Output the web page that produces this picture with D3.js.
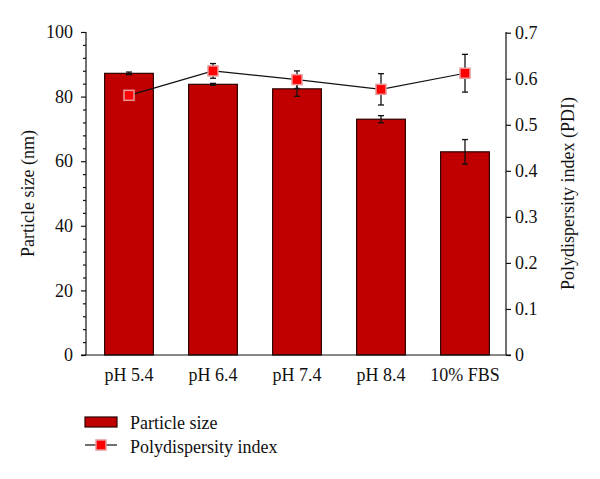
<!DOCTYPE html>
<html><head><meta charset="utf-8">
<script src="https://cdn.jsdelivr.net/npm/d3@7"></script>
<style>body{margin:0;background:#fff}svg{display:block}svg text{font-family:"Liberation Serif","DejaVu Serif",serif !important;fill:#111}</style>
</head><body>
<svg id="c" width="600" height="479"></svg>
<script>
const categories = ["pH 5.4","pH 6.4","pH 7.4","pH 8.4","10% FBS"];
const sizeValues = [87.2, 83.8, 82.4, 73.0, 62.9];
const sizeErrors = [0.4, 0.3, 2.3, 1.1, 3.8];
const pdiValues = [0.564, 0.617, 0.598, 0.577, 0.612];
const pdiErrors = [0.0, 0.016, 0.019, 0.034, 0.041];
const leftTicks = [0,20,40,60,80,100];
const rightTicks = [0,0.1,0.2,0.3,0.4,0.5,0.6,0.7];

const svg = d3.select("#c");
const x0 = 86, x1 = 506, yTop = 32, yBot = 355;
const x = d3.scaleBand().domain(categories).range([x0+1, x1+1]).paddingInner(0.42).paddingOuter(0.21);
const yL = d3.scaleLinear().domain([0,100]).range([yBot, yTop]);
const yR = d3.scaleLinear().domain([0,0.7]).range([yBot, yTop+0.7]);
const fs = 18;
const FF = '"Liberation Serif","DejaVu Serif",serif';

// bars
svg.append("g").selectAll("rect").data(categories).join("rect")
  .attr("x", d => x(d)).attr("width", x.bandwidth())
  .attr("y", (d,i) => yL(sizeValues[i])).attr("height", (d,i) => yBot - yL(sizeValues[i]))
  .attr("fill", "#c00000").attr("stroke", "#2a0000").attr("stroke-width", 1.2);

// bar error bars
const eb = svg.append("g").attr("stroke", "#111").attr("stroke-width", 1.3);
categories.forEach((c,i) => {
  const cx = x(c) + x.bandwidth()/2;
  const hi = yL(sizeValues[i]+sizeErrors[i]), lo = yL(sizeValues[i]-sizeErrors[i]);
  eb.append("line").attr("x1",cx).attr("x2",cx).attr("y1",hi).attr("y2",lo);
  eb.append("line").attr("x1",cx-3).attr("x2",cx+3).attr("y1",hi).attr("y2",hi);
  eb.append("line").attr("x1",cx-3).attr("x2",cx+3).attr("y1",lo).attr("y2",lo);
});

// left axis
const axL = svg.append("g").attr("transform", `translate(${x0},0)`);
axL.call(d3.axisLeft(yL).tickValues(d3.range(0,101,4)).tickSize(3).tickFormat(""));
axL.call(g => g.selectAll(".tick").filter(d => d % 20 === 0).select("line").attr("x2", -5));
axL.selectAll("path").attr("d", `M0,${yTop}V${yBot}`);
axL.selectAll("line,path").attr("stroke","#111").attr("stroke-width",1.2);
axL.selectAll(".tick text").remove();
const axL2 = svg.append("g").attr("transform", `translate(${x0},0)`);
axL2.call(d3.axisLeft(yL).tickValues(leftTicks).tickSize(0).tickPadding(13));
axL2.select(".domain").remove();
axL2.attr("font-family", FF).attr("font-size", fs);
axL2.selectAll("text").attr("font-size", fs).attr("font-family", FF);

// right axis
const axR = svg.append("g").attr("transform", `translate(${x1},0)`);
axR.call(d3.axisRight(yR).tickValues(rightTicks).tickSize(5).tickPadding(4).tickFormat(d => d === 0 ? "0" : d3.format(".1f")(d)));
axR.select(".domain").attr("d", `M0,${yTop}V${yBot}`);
axR.selectAll("line,path").attr("stroke","#111").attr("stroke-width",1.2);
axR.attr("font-family", FF).attr("font-size", fs);
axR.selectAll("text").attr("font-size", fs).attr("font-family", FF);

// bottom axis
const axB = svg.append("g").attr("transform", `translate(0,${yBot})`);
axB.call(d3.axisBottom(x).tickSize(0).tickPadding(13));
axB.select(".domain").attr("d", `M${x0-5},0H${x1+5}`).attr("stroke","#111").attr("stroke-width",1.2);
axB.attr("font-family", FF).attr("font-size", fs);
axB.selectAll("text").attr("font-size", fs).attr("font-family", FF);

// PDI line
const px = (c) => x(c) + x.bandwidth()/2;
svg.append("path").datum(categories)
  .attr("d", d3.line().x(c => px(c)).y((c,i) => yR(pdiValues[i])))
  .attr("fill","none").attr("stroke","#111").attr("stroke-width",1.2);
const pe = svg.append("g").attr("stroke", "#111").attr("stroke-width", 1.3);
categories.forEach((c,i) => {
  if (!pdiErrors[i]) return;
  const cx = px(c);
  const hi = yR(pdiValues[i]+pdiErrors[i]), lo = yR(pdiValues[i]-pdiErrors[i]);
  pe.append("line").attr("x1",cx).attr("x2",cx).attr("y1",hi).attr("y2",lo);
  pe.append("line").attr("x1",cx-3).attr("x2",cx+3).attr("y1",hi).attr("y2",hi);
  pe.append("line").attr("x1",cx-3).attr("x2",cx+3).attr("y1",lo).attr("y2",lo);
});
svg.append("g").selectAll("rect").data(categories).join("rect")
  .attr("x", c => px(c)-5).attr("y", (c,i) => yR(pdiValues[i])-5)
  .attr("width", 10).attr("height", 10)
  .attr("fill", "#ff0000").attr("stroke", "#e89a9a").attr("stroke-width", 1.5);

// axis titles
svg.append("text").attr("transform", `translate(34,${(yTop+yBot)/2}) rotate(-90)`)
  .attr("text-anchor","middle").attr("font-size", fs).attr("font-family", FF).text("Particle size (nm)");
svg.append("text").attr("transform", `translate(574,${(yTop+yBot)/2}) rotate(-90)`)
  .attr("text-anchor","middle").attr("font-size", fs).attr("font-family", FF).text("Polydispersity index (PDI)");

// legend
const lg = svg.append("g");
lg.append("rect").attr("x",85).attr("y",417).attr("width",32).attr("height",10)
  .attr("fill","#c00000").attr("stroke","#2a0000").attr("stroke-width",1.2);
lg.append("text").attr("x",130).attr("y",429).attr("font-size", fs).attr("font-family", FF).text("Particle size");
lg.append("line").attr("x1",85).attr("x2",117).attr("y1",445).attr("y2",445).attr("stroke","#111").attr("stroke-width",1.2);
lg.append("rect").attr("x",96).attr("y",440).attr("width",10).attr("height",10)
  .attr("fill","#ff0000").attr("stroke","#e89a9a").attr("stroke-width",1.5);
lg.append("text").attr("x",130).attr("y",453).attr("font-size", fs).attr("font-family", FF).text("Polydispersity index");
</script>
</body></html>
